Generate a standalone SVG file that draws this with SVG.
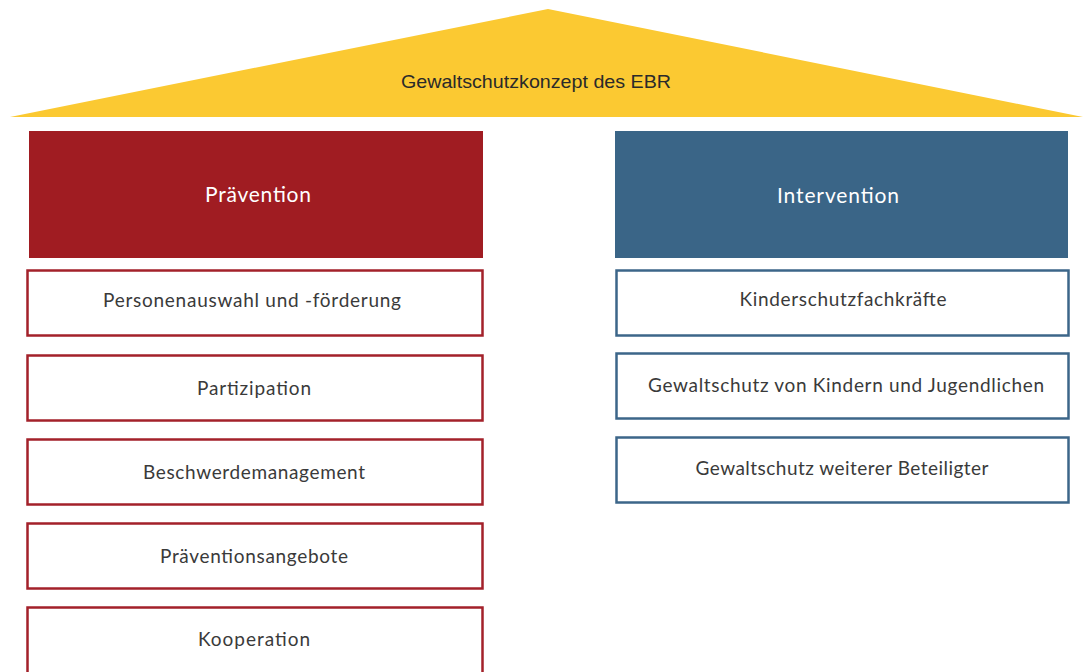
<svg xmlns="http://www.w3.org/2000/svg" width="1083" height="672" viewBox="0 0 1083 672">
<style>
.t{font-family:Lato,"Open Sans","Liberation Sans",sans-serif;font-size:19px;fill:#3a3a3a;text-anchor:middle;dominant-baseline:central}
.h{font-family:Lato,"Open Sans","Liberation Sans",sans-serif;font-size:21px;fill:#fff;text-anchor:middle;dominant-baseline:central}
.r{fill:#fff;stroke:#A3212A;stroke-width:2.5}
.b{fill:#fff;stroke:#3C6689;stroke-width:2.5}
</style>
<rect width="1083" height="672" fill="#fff"/>
<g id="roof">
<polygon points="10,117 548,9 1083,117" fill="#FBC932"/>
<text class="t" x="536" y="81" style="font-family:'Liberation Sans Narrow','Liberation Sans',sans-serif;font-size:19px;fill:#2a2a2a" textLength="270" lengthAdjust="spacingAndGlyphs">Gewaltschutzkonzept des EBR</text>
</g>
<g id="praevention">
<rect x="29" y="131" width="454" height="127" fill="#A01C22"/>
<text class="h" x="258" y="193" textLength="106">Prävention</text>
</g>
<g id="intervention">
<rect x="615" y="131" width="453" height="127" fill="#3A6587"/>
<text class="h" x="838" y="194" textLength="122">Intervention</text>
</g>
<g id="p1"><rect class="r" x="27.5" y="270.5" width="455" height="65"/><text class="t" x="252" y="299" textLength="298">Personenauswahl und -förderung</text></g>
<g id="p2"><rect class="r" x="27.5" y="355.5" width="455" height="65"/><text class="t" x="254" y="387" textLength="114">Partizipation</text></g>
<g id="p3"><rect class="r" x="27.5" y="439.5" width="455" height="65"/><text class="t" x="254" y="471" textLength="222">Beschwerdemanagement</text></g>
<g id="p4"><rect class="r" x="27.5" y="523.5" width="455" height="65"/><text class="t" x="254" y="555" textLength="188">Präventionsangebote</text></g>
<g id="p5"><rect class="r" x="27.5" y="607.5" width="455" height="80"/><text class="t" x="254" y="638" textLength="112">Kooperation</text></g>
<g id="i1"><rect class="b" x="616.5" y="270.5" width="452" height="65"/><text class="t" x="843" y="298" textLength="207">Kinderschutzfachkräfte</text></g>
<g id="i2"><rect class="b" x="616.5" y="353.5" width="452" height="65"/><text class="t" x="846" y="384" textLength="396">Gewaltschutz von Kindern und Jugendlichen</text></g>
<g id="i3"><rect class="b" x="616.5" y="437.5" width="452" height="65"/><text class="t" x="842" y="467" textLength="293">Gewaltschutz weiterer Beteiligter</text></g>
<g id="connectors"/>
</svg>
